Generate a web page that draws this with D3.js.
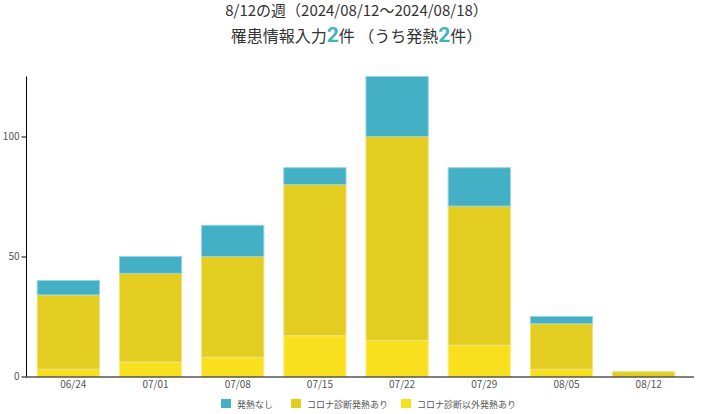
<!DOCTYPE html>
<html>
<head>
<meta charset="utf-8">
<script src="https://cdn.jsdelivr.net/npm/d3@7"></script>
<style>
  body { margin: 0; background: #fff; }
  svg { display: block; font-family: "Noto Sans CJK JP", "Noto Sans", sans-serif; }
</style>
</head>
<body>
<div id="chart"></div>
<script>
const weeks = ["06/24", "07/01", "07/08", "07/15", "07/22", "07/29", "08/05", "08/12"];
const otherFever = [3, 6, 8, 17, 15, 13, 3, 0];     // コロナ診断以外発熱あり
const coronaFever = [31, 37, 42, 63, 85, 58, 19, 2]; // コロナ診断発熱あり
const noFever = [6, 7, 13, 7, 25, 16, 3, 0];         // 発熱なし
const yTicks = [0, 50, 100];

const SERIES = [
    { key: "other", label: "コロナ診断以外発熱あり", color: "#f9e01f", values: otherFever },
    { key: "corona", label: "コロナ診断発熱あり", color: "#e2cd20", values: coronaFever },
    { key: "none", label: "発熱なし", color: "#43b0c5", values: noFever },
];
const LEGEND_ORDER = ["none", "corona", "other"];
const LEGEND_X = [221, 291, 401];

const W = 713, H = 414;
const svg = d3.select("#chart").append("svg")
    .attr("width", W)
    .attr("height", H);

// title
svg.append("text")
    .attr("x", 356.5)
    .attr("y", 16)
    .attr("text-anchor", "middle")
    .style("font-size", "15px")
    .style("fill", "#333")
    .text("8/12の週（2024/08/12～2024/08/18）");

// second line: separate pieces laid out side by side, centred
const subParts = [
    { t: "罹患情報入力", big: false },
    { t: "2", big: true },
    { t: "件 （うち発熱", big: false },
    { t: "2", big: true },
    { t: "件）", big: false },
];
const subG = svg.append("g");
let cursor = 0;
subParts.forEach(p => {
    const txt = subG.append("text")
        .attr("x", cursor)
        .attr("y", 42)
        .style("font-family", p.big ? "Roboto, sans-serif" : null)
        .style("font-size", p.big ? "21px" : "16px")
        .style("font-weight", p.big ? "bold" : "normal")
        .style("fill", p.big ? "#43b0c5" : "#333")
        .text(p.t);
    cursor += txt.node().getComputedTextLength();
});
subG.attr("transform", `translate(${356.5 - cursor / 2},0)`);

const data = weeks.map((w, i) => {
    const row = { week: w };
    SERIES.forEach(s => row[s.key] = s.values[i]);
    return row;
});

const stacked = d3.stack().keys(SERIES.map(s => s.key))(data);

const xScale = d3.scaleBand()
    .domain(weeks)
    .range([26, 686])
    .paddingInner(0.23)
    .paddingOuter(0.13);

const yScale = d3.scaleLinear()
    .domain([0, 125])
    .range([376.5, 76.5]);

const colorOf = Object.fromEntries(SERIES.map(s => [s.key, s.color]));

svg.append("g")
  .selectAll("g")
  .data(stacked)
  .enter().append("g")
    .attr("fill", d => colorOf[d.key])
    .attr("stroke", d => d3.interpolateRgb(colorOf[d.key], "#fff")(0.45))
  .selectAll("rect")
  .data(d => d.filter(p => p[1] - p[0] > 0))
  .enter().append("rect")
    .attr("x", d => xScale(d.data.week) + 0.5)
    .attr("y", d => yScale(d[1]))
    .attr("width", xScale.bandwidth() - 1)
    .attr("height", d => yScale(d[0]) - yScale(d[1]))
    .attr("stroke-width", 1);

// y axis
const yAxis = svg.append("g")
    .attr("transform", "translate(26.5,0)")
    .call(d3.axisLeft(yScale).tickValues(yTicks).tickSize(5).tickPadding(2));
yAxis.select(".domain").attr("d", `M0,${yScale(125)}V${yScale(0)}`).attr("stroke", "#000");
yAxis.selectAll(".tick line").attr("stroke", "#000");
yAxis.selectAll("text")
    .style("font-family", "'Noto Sans CJK JP', sans-serif")
    .style("font-size", "10px")
    .style("fill", "#555");

// x axis
const xAxis = svg.append("g")
    .attr("transform", `translate(0,${yScale(0) + 0.5})`)
    .call(d3.axisBottom(xScale).tickSize(0).tickPadding(4));
xAxis.select(".domain").attr("d", "M26,0H694").attr("stroke", "#000");
xAxis.selectAll("text")
    .attr("dx", 5)
    .style("font-family", "'Noto Sans CJK JP', sans-serif")
    .style("font-size", "10px")
    .style("fill", "#555");

// legend
const legend = svg.append("g");
LEGEND_ORDER.forEach((key, i) => {
    const s = SERIES.find(d => d.key === key);
    const g = legend.append("g").attr("transform", `translate(${LEGEND_X[i]},399)`);
    g.append("rect")
        .attr("width", 10)
        .attr("height", 9)
        .attr("fill", s.color);
    g.append("text")
        .attr("x", 16)
        .attr("y", 8.5)
        .style("font-size", "9px")
        .style("fill", "#555")
        .text(s.label);
});
</script>
</body>
</html>
